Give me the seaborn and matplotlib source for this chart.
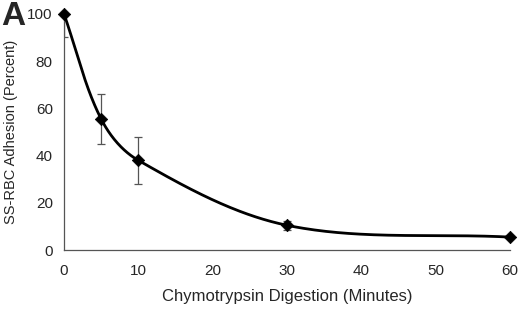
import numpy as np
import pandas as pd
import seaborn as sns
import matplotlib
matplotlib.use("Agg")
import matplotlib.pyplot as plt

minutes = [0, 5, 10, 30, 60]
adhesion = [100, 55.5, 38, 10.5, 5.5]
err_low = [10, 10.5, 10, 2, 0]
err_high = [0, 10.5, 10, 2, 0]


def smooth_curve(x, y, n=80):
    # smoothed line like excel's, tangents scaled by segment length
    sx, sy = 446 / 60.0, 236 / 100.0
    p = np.column_stack([np.asarray(x, float) * sx, np.asarray(y, float) * sy])
    m = np.zeros_like(p)
    for i in range(len(p)):
        a = p[max(i - 1, 0)]
        b = p[min(i + 1, len(p) - 1)]
        d = b - a
        m[i] = d / np.linalg.norm(d)
    out = []
    for i in range(len(p) - 1):
        p1, p2 = p[i], p[i + 1]
        L = np.linalg.norm(p2 - p1)
        c1 = p1 + m[i] * L / 3.0
        c2 = p2 - m[i + 1] * L / 3.0
        t = np.linspace(0, 1, n)[:, None]
        seg = ((1 - t) ** 3) * p1 + 3 * ((1 - t) ** 2) * t * c1 + 3 * (1 - t) * t ** 2 * c2 + t ** 3 * p2
        out.append(seg)
    out = np.vstack(out)
    return out[:, 0] / sx, out[:, 1] / sy


sns.set_style("white")
plt.rcParams["font.family"] = ["Liberation Sans", "DejaVu Sans"]

df = pd.DataFrame({"minutes": minutes, "adhesion": adhesion})
cx, cy = smooth_curve(minutes, adhesion)

fig = plt.figure(figsize=(5.2, 3.15), dpi=100)
ax = fig.add_axes([0.123, 0.206, 0.858, 0.75])

ax.errorbar(minutes, adhesion, yerr=[err_low, err_high], fmt="none",
            ecolor="#555555", elinewidth=0.9, capsize=3, capthick=0.9, zorder=2)
ax.plot(cx, cy, color="black", linewidth=2, zorder=3, clip_on=False)
sns.scatterplot(data=df, x="minutes", y="adhesion", ax=ax, marker="D", s=40,
                color="black", edgecolor="black", zorder=4, clip_on=False)

ax.set_xlim(0, 60)
ax.set_ylim(0, 100)
ax.set_xticks([0, 10, 20, 30, 40, 50, 60])
ax.set_yticks([0, 20, 40, 60, 80, 100])
ax.set_xlabel("Chymotrypsin Digestion (Minutes)", fontsize=12, labelpad=8)
ax.set_ylabel("SS-RBC Adhesion (Percent)", fontsize=10.5, labelpad=7)
ax.tick_params(axis="x", direction="in", length=4, width=0.8, color="#555555",
               labelsize=11, pad=10)
ax.tick_params(axis="y", length=0, labelsize=11, pad=8)
for s in ["top", "right"]:
    ax.spines[s].set_visible(False)
for s in ["left", "bottom"]:
    ax.spines[s].set_color("#555555")
    ax.spines[s].set_linewidth(0.9)

fig.text(0.003, 0.998, "A", fontsize=24, fontweight="bold", va="top", ha="left")

fig.savefig("out.png", dpi=100)
